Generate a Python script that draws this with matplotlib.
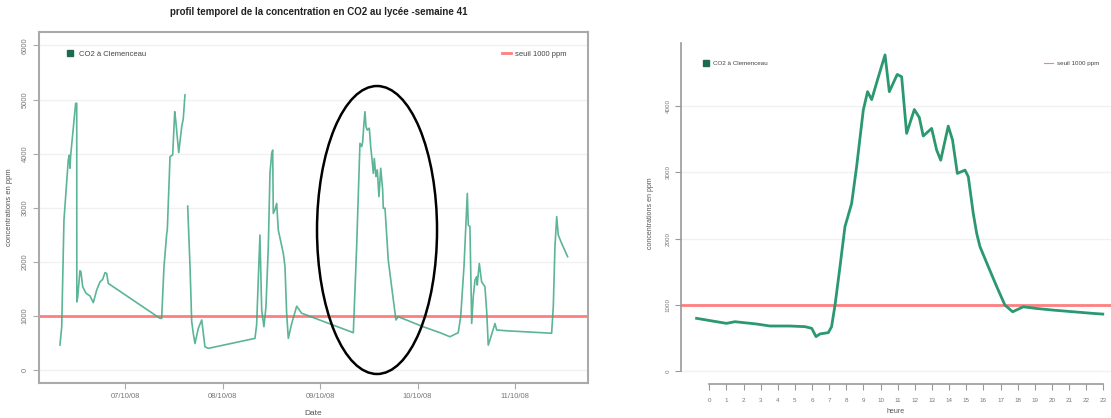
import matplotlib
matplotlib.use("Agg")
import matplotlib.pyplot as plt
from matplotlib.lines import Line2D
from matplotlib.patches import Ellipse
import numpy as np

plt.rcParams['font.family'] = ['Liberation Sans', 'DejaVu Sans']

# ── données : semaine 41 (jour décimal, ppm) ─────────────────
week_t = [6.332, 6.350, 6.373, 6.417, 6.428, 6.435, 6.442, 6.493, 6.504, 6.505,
          6.514, 6.537, 6.547, 6.565, 6.599, 6.640, 6.674, 6.709, 6.743, 6.770,
          6.794, 6.811, 6.828, 7.358, 7.375, 7.399, 7.427, 7.433, 7.461, 7.488,
          7.509, 7.519, 7.550, 7.581, 7.597, 7.614, 7.628,
          7.642, 7.666, 7.683, 7.699, 7.717, 7.751, 7.786, 7.819, 7.853, 8.332,
          8.349, 8.383, 8.401, 8.424, 8.445, 8.469, 8.486, 8.504, 8.514, 8.520,
          8.537, 8.555, 8.571, 8.623, 8.640, 8.657, 8.674, 8.709, 8.760, 8.811,
          9.341, 9.375, 9.409, 9.427, 9.437, 9.450, 9.460, 9.471, 9.484, 9.505,
          9.519, 9.532, 9.546, 9.556, 9.573, 9.587, 9.604, 9.622, 9.642, 9.648,
          9.666, 9.699, 9.734, 9.778, 9.802, 10.058, 10.230, 10.332, 10.366, 10.417,
          10.442, 10.476, 10.510, 10.520, 10.537, 10.555, 10.571, 10.589, 10.606, 10.612,
          10.633, 10.657, 10.691, 10.708, 10.725, 10.742, 10.794, 10.811, 10.914, 11.375,
          11.392, 11.409, 11.427, 11.443, 11.478, 11.539]
week_ppm = [462, 800, 2770, 3880, 3970, 3730, 3970, 4930, 4930, 1260,
            1350, 1835, 1815, 1540, 1420, 1370, 1245, 1480, 1630, 1675,
            1800, 1785, 1600, 955, 955, 1910, 2525, 2590, 3945, 3975,
            4775, 4620, 4020, 4500, 4650, 5085, np.nan,
            3030, 1910, 900, 680, 490, 770, 925, 430, 400, 585,
            830, 2495, 1110, 800, 1170, 2280, 3635, 4005, 4065, 2895,
            2960, 3080, 2590, 2155, 1910, 1050, 585, 860, 1180, 1050,
            690, 2280, 4190, 4130, 4220, 4560, 4775, 4500, 4435, 4470,
            4130, 3910, 3635, 3910, 3575, 3700, 3205, 3730, 3330, 2990,
            2990, 2035, 1540, 925, 985, 800, 690, 615, 645, 690,
            985, 1910, 3265, 2680, 2650, 860, 1355, 1665, 1725, 1570,
            1970, 1630, 1540, 1110, 460, 555, 860, 740, 725, 680,
            1170, 2280, 2835, 2495, 2340, 2095]
week_ticks = [7, 8, 9, 10, 11]
week_labels = ['07/10/08', '08/10/08', '09/10/08', '10/10/08', '11/10/08']

# ── données : journée du 09/10 (heure, ppm) ──────────────────
day_h = [-0.74, -0.15, 1.0, 1.5, 2.77, 3.54, 4.71, 5.59, 5.98, 6.23,
         6.46, 6.95, 7.14, 7.34, 7.63, 7.92, 8.31, 8.6, 8.99, 9.24,
         9.48, 9.96, 10.26, 10.51, 10.97, 11.23, 11.52, 11.97, 12.26, 12.49,
         12.98, 13.27, 13.51, 13.95, 14.2, 14.48, 14.93, 15.12, 15.41, 15.61,
         15.8, 16.29, 16.78, 17.26, 17.71, 18.33, 19.11, 20.08, 21.25, 22.42, 22.97]
day_ppm = [796, 770, 720, 745, 710, 680, 680, 670, 645, 520,
           560, 580, 670, 995, 1575, 2180, 2530, 3085, 3940, 4220,
           4100, 4520, 4775, 4220, 4480, 4445, 3590, 3950, 3830, 3550,
           3665, 3340, 3185, 3700, 3490, 2985, 3035, 2935, 2380, 2080,
           1880, 1575, 1275, 995, 895, 970, 945, 920, 895, 870, 860]
hours = list(range(24))

SEUIL = 1000
GREEN = '#3fa883'
GREEN_DK = '#2b9870'
RED = '#ff7f7f'
GRAY = '#777777'

fig = plt.figure(figsize=(11.11, 4.18), dpi=100)

# ── graphique gauche : semaine ───────────────────────────────
ax1 = fig.add_axes([39 / 1111, 1 - 383 / 418, 549 / 1111, 351 / 418])
ax1.set_xlim(6.117, 11.748)
ax1.set_ylim(-240, 6248)
ax1.set_yticks(range(0, 7000, 1000))
for v in range(0, 7000, 1000):
    ax1.axhline(v, color='#f1f1f1', lw=1, zorder=0)
ax1.axhline(SEUIL, color=RED, lw=2, zorder=2)
ax1.plot(week_t, week_ppm, color=GREEN, lw=1.2, alpha=0.85, zorder=3)
ax1.add_patch(Ellipse((9.584, 2588), 1.231, 5323, fill=False,
                      edgecolor='black', lw=1.8, zorder=4))
ax1.set_xticks(week_ticks)
ax1.set_xticklabels(week_labels)
for s in ax1.spines.values():
    s.set_color('#aaaaaa')
    s.set_linewidth(1.5)
ax1.tick_params(axis='both', colors='#aaaaaa', labelcolor=GRAY, labelsize=5.5, length=4)
plt.setp(ax1.get_yticklabels(), rotation=90, va='center')
ax1.set_xlabel('Date', fontsize=6, color='#555555', labelpad=7)
ax1.set_ylabel('concentrations en ppm', fontsize=5.5, color='#555555', labelpad=6)

h1 = Line2D([], [], ls='none', marker='s', ms=4.5, color='#1c6b4f')
l1 = ax1.legend([h1], ['CO2 à Clemenceau'], loc='center left', bbox_to_anchor=(0.03, 0.937),
                frameon=False, fontsize=5.5, handletextpad=0.2, labelcolor='#444444')
ax1.add_artist(l1)
h2 = Line2D([], [], color=RED, lw=2)
ax1.legend([h2], ['seuil 1000 ppm'], loc='center left', bbox_to_anchor=(0.83, 0.937),
           frameon=False, fontsize=5.5, handlelength=1.2, handletextpad=0.6,
           labelcolor='#444444')

fig.text(0.287, 0.971, 'profil temporel de la concentration en CO2 au lycée -semaine 41',
         ha='center', va='center', fontsize=7, fontweight='bold', color='#222222')

# ── graphique droit : journée ────────────────────────────────
ax2 = fig.add_axes([681 / 1111, 1 - 384 / 418, 430 / 1111, 341 / 418])
ax2.set_xlim(-1.65, 23.45)
ax2.set_ylim(-196, 4955)
ax2.set_yticks(range(0, 5000, 1000))
for v in range(0, 5000, 1000):
    ax2.axhline(v, color='#f1f1f1', lw=1, zorder=0)
ax2.axhline(SEUIL, color=RED, lw=2, zorder=2)
ax2.plot(day_h, day_ppm, color=GREEN_DK, lw=2, zorder=3)
ax2.set_xticks(hours)
ax2.spines['top'].set_visible(False)
ax2.spines['right'].set_visible(False)
ax2.spines['left'].set_bounds(0, 4955)
ax2.spines['bottom'].set_bounds(0, 23)
for s in ('left', 'bottom'):
    ax2.spines[s].set_color('#999999')
    ax2.spines[s].set_linewidth(1.2)
ax2.tick_params(axis='both', colors='#999999', labelcolor=GRAY, labelsize=4.5, length=4)
ax2.tick_params(axis='x', pad=6)
plt.setp(ax2.get_yticklabels(), rotation=90, va='center')
ax2.set_xlabel('heure', fontsize=5, color='#555555', labelpad=4)
ax2.set_ylabel('concentrations en ppm', fontsize=5, color='#555555', labelpad=8)

l3 = ax2.legend([h1], ['CO2 à Clemenceau'], loc='center left', bbox_to_anchor=(0.03, 0.94),
                frameon=False, fontsize=4.5, handletextpad=0.2, labelcolor='#444444')
ax2.add_artist(l3)
h4 = Line2D([], [], color=RED, lw=0.8)
ax2.legend([h4], ['seuil 1000 ppm'], loc='center left', bbox_to_anchor=(0.83, 0.94),
           frameon=False, fontsize=4.5, handlelength=1.5, handletextpad=0.6,
           labelcolor='#444444')

fig.savefig('out.png', dpi=100)
